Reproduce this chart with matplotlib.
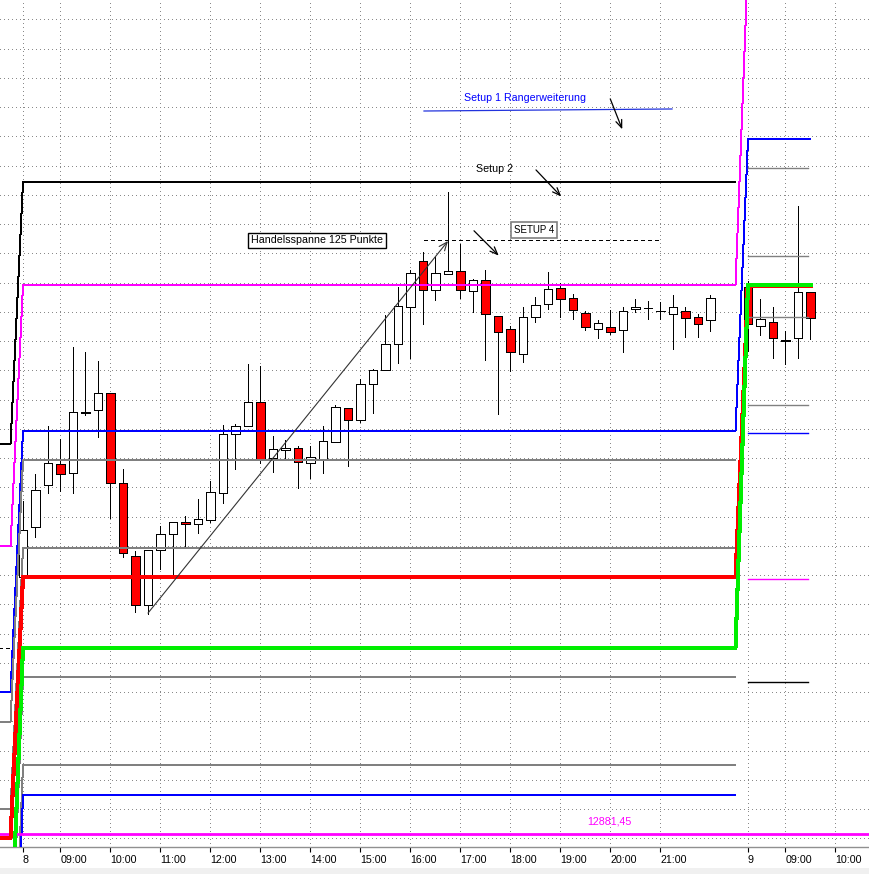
import matplotlib.pyplot as plt
from matplotlib.patches import Rectangle

plt.rcParams['font.family'] = ['Liberation Sans', 'DejaVu Sans']

# 15 minute bars; day 1 starts 08:15 at slot 0, day 2 starts at slot 58
bar_idx = list(range(0, 56)) + list(range(58, 64))
opens = [12969.2, 12986.5, 13000.7, 13007.9, 13004.8, 13025.3, 13026.3, 13032.1,
         13001.4, 12976.4, 12959.7, 12978.5, 12983.9, 12988.0, 12987.4, 12988.8,
         12998.2, 13018.1, 13020.9, 13029.2, 13009.9, 13012.6, 13013.3, 13008.2,
         13009.8, 13015.6, 13027.0, 13022.9, 13035.2, 13040.0, 13048.9, 13061.5,
         13077.3, 13067.4, 13073.0, 13073.8, 13067.0, 13070.9, 13058.7, 13054.0,
         13045.5, 13058.3, 13062.6, 13068.0, 13064.6, 13059.5, 13054.0, 13054.7,
         13053.7, 13061.1, 13061.2, 13060.3, 13059.2, 13060.2, 13058.1, 13057.1,
         13068.4, 13055.0, 13056.4, 13050.1, 13050.9, 13066.9]
highs = [12995.3, 13004.5, 13021.0, 13016.5, 13048.1, 13046.2, 13043.2, 13032.1,
         13006.2, 12978.2, 12978.5, 12986.8, 12988.1, 12990.2, 12996.0, 13002.2,
         13021.3, 13021.6, 13042.2, 13041.5, 13017.6, 13016.2, 13014.1, 13014.1,
         13021.0, 13028.1, 13027.0, 13037.1, 13040.3, 13058.9, 13068.6, 13074.3,
         13080.4, 13078.6, 13100.8, 13083.1, 13071.1, 13074.3, 13058.7, 13055.2,
         13061.6, 13065.0, 13073.5, 13069.8, 13066.1, 13060.4, 13057.1, 13060.6,
         13061.6, 13064.4, 13063.6, 13063.4, 13065.9, 13061.6, 13059.3, 13065.9,
         13070.7, 13064.3, 13061.5, 13053.5, 13096.2, 13066.9]
lows = [12968.7, 12982.9, 12997.9, 12998.8, 12997.9, 13024.6, 13017.3, 12989.4,
        12976.1, 12957.5, 12956.6, 12972.2, 12970.0, 12979.5, 12984.5, 12988.2,
        12994.7, 13006.2, 13020.9, 13008.4, 13005.3, 13009.5, 12999.7, 13003.1,
        13005.0, 13015.6, 13007.4, 13022.4, 13025.5, 13040.0, 13042.6, 13044.1,
        13055.9, 13064.1, 13073.0, 13064.6, 13060.0, 13043.4, 13025.0, 13039.9,
        13042.7, 13056.6, 13061.1, 13058.1, 13057.6, 13053.7, 13051.2, 13052.4,
        13046.4, 13059.8, 13057.6, 13057.5, 13047.2, 13051.5, 13051.5, 13053.5,
        13046.7, 13052.1, 13044.3, 13042.1, 13044.3, 13050.8]
closes = [12985.4, 12999.1, 13008.2, 13004.5, 13025.7, 13025.6, 13032.1, 13001.4,
          12977.4, 12959.7, 12978.5, 12983.9, 12988.0, 12987.4, 12989.1, 12998.3,
          13018.1, 13020.9, 13029.2, 13009.6, 13013.1, 13013.3, 13008.5, 13010.3,
          13015.7, 13027.5, 13022.9, 13035.2, 13040.0, 13048.9, 13061.9, 13073.2,
          13067.4, 13073.2, 13073.8, 13067.4, 13070.8, 13059.3, 13053.0, 13046.2,
          13058.1, 13062.2, 13067.7, 13064.3, 13060.5, 13054.7, 13056.1, 13053.0,
          13060.2, 13061.5, 13061.2, 13060.3, 13061.5, 13057.8, 13055.7, 13064.6,
          13055.8, 13057.6, 13050.9, 13050.3, 13066.9, 13057.8]

# level lines: value of the previous day, day 1, and day 2 (None = no carry over)
lvl_colors = ['black', '#ff00ff', '#0000ff', '#808080', '#808080',
              '#ff0000', '#00ee00', '#808080', '#808080', '#0000ff']
lvl_prev = [13014.8, 12979.9, 12929.9, 12919.9, 12889.9,
            12880.2, 12840.0, 12830.0, 12800.0, 12780.0]
lvl_day1 = [13104.3, 13069.2, 13019.3, 13009.3, 12979.2,
            12969.3, 12945.1, 12935.0, 12904.9, 12894.9]
lvl_day2 = [None, 13180.0, 13119.0, None, None,
            13068.7, 13069.3, None, None, None]

# short levels drawn only for day 2
d2_levels = [13109.1, 13079.1, 13058.3, 13028.3, 13018.5, 12968.7, 12933.3]
d2_colors = ['#808080', '#808080', '#808080', '#808080', '#0000ff', '#ff00ff', 'black']

close_line = 12881.45
setup4_level = 13084.5
range_low = 12957.0
range_high = 13084.2

tick_pos = [0, 3, 7, 11, 15, 19, 23, 27, 31, 35, 39, 43, 47, 51, 58, 61, 65]
tick_lbl = ['8', '09:00', '10:00', '11:00', '12:00', '13:00', '14:00', '15:00',
            '16:00', '17:00', '18:00', '19:00', '20:00', '21:00', '9', '09:00', '10:00']

fig = plt.figure(figsize=(8.7, 8.74), dpi=100)
ax = fig.add_axes([0, 27 / 874, 1, 847 / 874])
ax.set_xlim(-1.84, 67.76)
ax.set_ylim(12877.03, 13166.6)

# dotted grid
dot = (0, (1, 3))
for p in range(12880, 13170, 10):
    ax.axhline(p, color='#8a8a8a', lw=0.72, ls=dot, zorder=0, antialiased=False)
for t in tick_pos:
    ax.axvline(t, color='#8a8a8a', lw=0.72, ls=dot, zorder=0, antialiased=False)

# candles
for i, o, h, l, c in zip(bar_idx, opens, highs, lows, closes):
    ax.plot([i, i], [l, h], color='black', lw=0.72, zorder=2,
            solid_capstyle='butt', antialiased=False)
    fc = '#ff0000' if c < o else 'white'
    ax.add_patch(Rectangle((i - 0.33, min(o, c)), 0.66, abs(c - o),
                           facecolor=fc, edgecolor='black', lw=0.72, zorder=3,
                           antialiased=False))

# level lines with ramps between days
for col, pv, d1, d2 in zip(lvl_colors, lvl_prev, lvl_day1, lvl_day2):
    xs = [-2, -1, 0, 57]
    ys = [pv, pv, d1, d1]
    if d2 is not None:
        xs += [58, 63]
        ys += [d2, d2]
    thick = col in ('#ff0000', '#00ee00')
    ax.plot(xs, ys, color=col, lw=2.2 if thick else 0.72, antialiased=False,
            zorder=5 if thick else 4)

for p, col in zip(d2_levels, d2_colors):
    ax.plot([58, 62.8], [p, p], color=col, lw=1.0, zorder=4)

ax.plot([-2, -0.8], [12945.0, 12945.0], color='black', lw=0.72, ls=(0, (4, 3)),
        antialiased=False, zorder=4)

# last close line
ax.axhline(close_line, color='#ff00ff', lw=2.0, zorder=4)
ax.text(45.1, 12885.9, '12881,45', color='#ff00ff', fontsize=7.7, va='center', ha='left')

# drawings
ax.annotate('', xy=(34.0, range_high), xytext=(10.0, range_low),
            arrowprops=dict(arrowstyle='->,head_length=0.6,head_width=0.25',
                            color='#333333', lw=0.8, shrinkA=0, shrinkB=0), zorder=6)
ax.text(23.52, 13084.45, 'Handelsspanne 125 Punkte', fontsize=7.7, ha='center', va='center',
        bbox=dict(boxstyle='square,pad=0.25', facecolor='white', edgecolor='black', lw=1.0),
        zorder=7)

ax.plot([32.08, 50.96], [setup4_level, setup4_level], color='black', lw=0.72,
        ls=(0, (4, 3)), antialiased=False, zorder=6)
ax.text(40.88, 13088.0, 'SETUP 4', fontsize=7, ha='center', va='center',
        bbox=dict(boxstyle='square,pad=0.3', facecolor='white', edgecolor='#808080', lw=1.2),
        zorder=7)

ax.plot([32.08, 51.92], [13128.65, 13129.34], color='#2233dd', lw=0.9, zorder=6)
ax.text(40.16, 13133.1, 'Setup 1 Rangerweiterung', color='#0000ff', fontsize=7.7,
        ha='center', va='center')
ax.text(37.76, 13108.8, 'Setup 2', color='black', fontsize=7.7, ha='center', va='center')

arrow_from = [(46.98, 13132.8), (41.04, 13108.5), (36.08, 13087.7)]
arrow_to = [(47.94, 13122.4), (43.06, 13099.4), (38.06, 13079.2)]
for a, b in zip(arrow_from, arrow_to):
    ax.annotate('', xy=b, xytext=a,
                arrowprops=dict(arrowstyle='->,head_length=0.55,head_width=0.22',
                                color='black', lw=0.9, shrinkA=0, shrinkB=0), zorder=6)

# axes styling
for s in ('left', 'right', 'top'):
    ax.spines[s].set_visible(False)
ax.spines['bottom'].set_color('#909090')
ax.spines['bottom'].set_linewidth(1.0)
ax.set_yticks([])
ax.set_xticks(tick_pos, tick_lbl)
ax.tick_params(axis='x', direction='out', length=3.5, width=0.8, color='black',
               pad=2.5, labelsize=7.7)
for lbl in ax.get_xticklabels():
    lbl.set_horizontalalignment('left')

fig.patches.append(Rectangle((0, 0), 1, 6 / 874, transform=fig.transFigure,
                             facecolor='#f0f0f0', edgecolor='none'))

fig.savefig('out.png', dpi=100)
